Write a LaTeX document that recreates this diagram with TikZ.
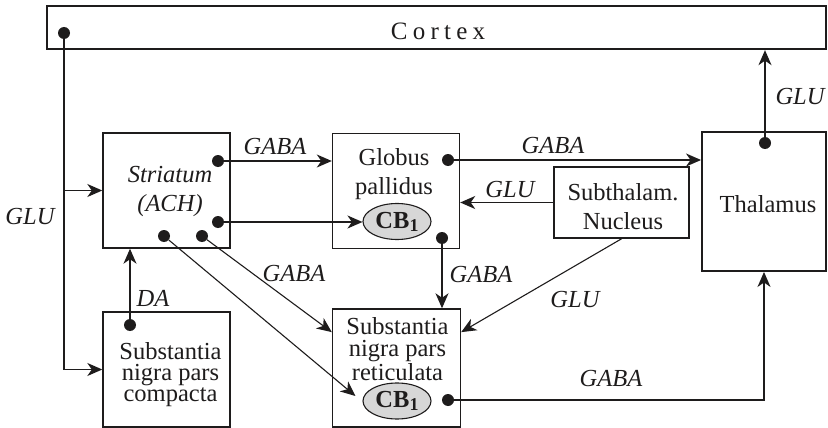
\documentclass[tikz,border=0pt]{standalone}
\usepackage{fontspec}
\setmainfont{Liberation Serif}
\newfontfamily\spacedserif[LetterSpace=21]{Liberation Serif}
\usetikzlibrary{arrows.meta, shapes.geometric}
\definecolor{ink}{RGB}{30, 28, 28}
\definecolor{receptor}{RGB}{215, 215, 215}

\begin{document}
\begin{tikzpicture}[x=1pt, y=-1pt,
    region/.style={draw=ink, line width=1.4pt, rectangle, inner sep=0pt},
    txt/.style={font=\fontsize{24.5}{29}\selectfont, align=center, text=ink},
    lbl/.style={font=\fontsize{24.5}{24}\selectfont\itshape, text=ink},
    dot/.style={circle, fill=ink, inner sep=0pt, minimum size=12pt},
    cb/.style={ellipse, draw=ink, line width=1.1pt, fill=receptor, minimum width=68pt, minimum height=36pt, inner sep=0pt, font=\fontsize{24.5}{24}\selectfont\bfseries, text=ink},
    link/.style={draw=ink, line width=1.4pt, -{Stealth[length=15pt, width=13pt, inset=4.5pt]}},
    thin link/.style={link, line width=1.1pt}]
        \useasboundingbox (0,0) rectangle (828,428);

        % regions
        \node[region, line width=2.3pt, minimum width=779pt, minimum height=43pt] (ctx) at (436.5,27.5) {};
        \node[font=\spacedserif\fontsize{25}{25}\selectfont, text=ink] (ctxname) at (438,31) {Cortex};

        \node[region, minimum width=127pt, minimum height=115pt] (str) at (166.5,190.5) {};
        \node[txt, font=\fontsize{24.5}{29}\selectfont\itshape] (strname) at (170,191) {Striatum\\(ACH)};

        \node[region, minimum width=127pt, minimum height=115pt] (gp) at (396,191) {};
        \node[txt] (gpname) at (394,174.5) {Globus\\pallidus};
        \node[cb] (gpcb) at (397,221.5) {CB\raisebox{-3pt}{\fontsize{18}{18}\selectfont 1}};

        \node[region, line width=1.6pt, minimum width=135pt, minimum height=71pt] (stn) at (621.5,202.5) {};
        \node[txt] (stnname) at (623,206.5) {Subthalam.\\Nucleus};

        \node[region, line width=1.9pt, minimum width=124pt, minimum height=139pt] (thal) at (764,201.5) {};
        \node[txt] (thalname) at (768,204) {Thalamus};

        \node[region, minimum width=128pt, minimum height=118pt] (snr) at (396.5,368) {};
        \node[txt, font=\fontsize{24.5}{22}\selectfont] (snrname) at (397.5,349) {Substantia\\nigra pars\\reticulata};
        \node[cb] (snrcb) at (397,401) {CB\raisebox{-3pt}{\fontsize{18}{18}\selectfont 1}};

        \node[region, minimum width=127pt, minimum height=115pt] (snc) at (166.5,369.5) {};
        \node[txt, font=\fontsize{24.5}{21}\selectfont] (sncname) at (170.5,375) {Substantia\\nigra pars\\compacta};

        % synapse dots
        \node[dot] (ctxdot) at (64,33) {};
        \node[dot] (str1) at (218,161) {};
        \node[dot] (str2) at (218,222) {};
        \node[dot] (str3) at (164,236) {};
        \node[dot] (str4) at (202,236) {};
        \node[dot] (gp1) at (448,160) {};
        \node[dot] (gp2) at (442,238) {};
        \node[dot] (thaldot) at (765,143) {};
        \node[dot] (snrdot) at (448,400) {};
        \node[dot] (sncdot) at (130,325) {};

        % pathways
        \draw[link] (ctxdot) |- (snc.west);
        \draw[link] (ctxdot |- str.west) -- (str.west);
        \draw[link] (sncdot) -- (sncdot |- str.south);
        \draw[link] (str1) -- (str1 -| gp.west);
        \draw[link] (str2) -- (str2 -| gpcb.west);
        \draw[thin link] (str3) -- ([xshift=-7pt, yshift=5pt]snrcb.west);
        \draw[thin link] (str4) -- (snr.151);
        \draw[link] (gp1) -- (gp1 -| thal.west);
        \draw[link] (gp2) -- (gp2 |- snr.north);
        \draw[link] (stn.west) -- (stn.west -| gp.east);
        \draw[thin link] (stn.south) -- (snr.29);
        \draw[link] (thaldot) -- (thaldot |- ctx.south);
        \draw[link] (snrdot) -| (thal.south);

        % transmitters
        \node[lbl] (gluin) at (30,217) {GLU};
        \node[lbl] (gabastr) at (275,146) {GABA};
        \node[lbl] (gabagp) at (553,145) {GABA};
        \node[lbl] (glustn) at (510,190) {GLU};
        \node[lbl] (gluthal) at (800,97) {GLU};
        \node[lbl] (gabadiag) at (294,273) {GABA};
        \node[lbl] (gabadown) at (481,274) {GABA};
        \node[lbl] (glusnr) at (575,300) {GLU};
        \node[lbl] (da) at (153,298) {DA};
        \node[lbl] (gabasnr) at (611,378) {GABA};

    \end{tikzpicture}
\end{document}
